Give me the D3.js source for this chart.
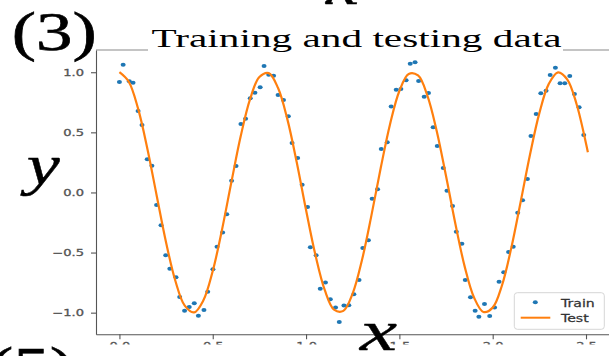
<!DOCTYPE html>
<html>
<head>
<meta charset="utf-8">
<script src="https://d3js.org/d3.v7.min.js"></script>
<style>
  body { margin: 0; background: #fff; }
  .tick line, .domain { stroke: #555; stroke-width: 1.1; }
  .tick text { fill: #555; stroke: #555; stroke-width: 0.3; font-family: "DejaVu Sans", sans-serif; font-size: 9px; }
  .serif { font-family: "Liberation Serif", serif; fill: #000; stroke: #000; }
</style>
</head>
<body>
<script>
var width = 609,
    height = 356;

// Train: noisy samples
var trainX = [0.000, 0.020, 0.053, 0.073, 0.100, 0.121, 0.149, 0.174, 0.199, 0.223,
              0.248, 0.270, 0.303, 0.323, 0.349, 0.374, 0.401, 0.423, 0.453, 0.473,
              0.501, 0.523, 0.553, 0.575, 0.601, 0.625, 0.651, 0.676, 0.701, 0.726,
              0.754, 0.775, 0.800, 0.826, 0.850, 0.879, 0.905, 0.925, 0.955, 0.979,
              1.008, 1.023, 1.054, 1.076, 1.104, 1.130, 1.158, 1.178, 1.203, 1.229,
              1.256, 1.284, 1.304, 1.334, 1.354, 1.383, 1.403, 1.435, 1.456, 1.483,
              1.508, 1.536, 1.558, 1.584, 1.603, 1.633, 1.656, 1.681, 1.703, 1.735,
              1.755, 1.785, 1.805, 1.835, 1.853, 1.881, 1.906, 1.926, 1.956, 1.984,
              2.010, 2.034, 2.059, 2.085, 2.110, 2.134, 2.160, 2.186, 2.205, 2.233,
              2.258, 2.286, 2.308, 2.336, 2.361, 2.386, 2.413, 2.438, 2.463, 2.488];
var trainY = [0.919, 1.063, 0.925, 0.913, 0.678, 0.561, 0.276, 0.223, -0.104, -0.273,
              -0.522, -0.634, -0.705, -0.869, -0.985, -0.952, -0.921, -1.025, -0.977, -0.827,
              -0.639, -0.451, -0.334, -0.181, 0.098, 0.220, 0.570, 0.614, 0.783, 0.830,
              0.875, 1.052, 0.980, 0.971, 0.811, 0.769, 0.634, 0.412, 0.287, 0.065,
              -0.121, -0.456, -0.522, -0.802, -0.750, -0.888, -0.958, -1.077, -0.941, -0.938,
              -0.847, -0.728, -0.462, -0.397, -0.052, 0.027, 0.362, 0.417, 0.714, 0.855,
              0.861, 0.933, 1.071, 1.083, 0.927, 0.797, 0.827, 0.542, 0.387, 0.204,
              0.015, -0.112, -0.326, -0.426, -0.728, -0.872, -0.985, -1.033, -0.927, -1.027,
              -0.958, -0.742, -0.664, -0.495, -0.451, -0.168, -0.065, 0.112, 0.470, 0.653,
              0.825, 0.847, 0.977, 1.038, 0.908, 0.908, 0.969, 0.819, 0.709, 0.478];

// Test: the smooth curve
var testX = [0.00, 0.05, 0.10, 0.15, 0.20, 0.25, 0.30, 0.35, 0.40, 0.45,
             0.50, 0.55, 0.60, 0.65, 0.70, 0.75, 0.80, 0.85, 0.90, 0.95,
             1.00, 1.05, 1.10, 1.15, 1.20, 1.25, 1.30, 1.35, 1.40, 1.45,
             1.50, 1.55, 1.60, 1.65, 1.70, 1.75, 1.80, 1.85, 1.90, 1.95,
             2.00, 2.05, 2.10, 2.15, 2.20, 2.25, 2.30, 2.35, 2.40, 2.45,
             2.50, 2.51];
var testY = [1.000, 0.921, 0.697, 0.362, -0.029, -0.416, -0.737, -0.942, -0.998, -0.897,
             -0.654, -0.307, 0.087, 0.469, 0.776, 0.960, 0.993, 0.869, 0.608, 0.251,
             -0.146, -0.519, -0.811, -0.975, -0.985, -0.839, -0.560, -0.193, 0.203, 0.568,
             0.844, 0.986, 0.973, 0.806, 0.512, 0.137, -0.260, -0.617, -0.874, -0.994,
             -0.958, -0.772, -0.459, -0.077, 0.316, 0.660, 0.901, 0.999, 0.939, 0.732,
             0.408, 0.334];

var xTicks = [0, 0.5, 1, 1.5, 2, 2.5],
    xTickLabels = ["0.0", "0.5", "1.0", "1.5", "2.0", "2.5"];
var yTicks = [-1, -0.5, 0, 0.5, 1],
    yTickLabels = ["\u22121.0", "\u22120.5", "0.0", "0.5", "1.0"];
var legendLabels = ["Train", "Test"];

var x = d3.scaleLinear()
    .domain([-0.1255, 2.6355])
    .range([96, 611.3]);

var y = d3.scaleLinear()
    .domain([-1.18, 1.185])
    .range([334.3, 50]);

var svg = d3.select("body").append("svg")
    .attr("viewBox", "0 0 " + width + " " + height)
    .attr("width", width)
    .attr("height", height);

svg.append("rect")
    .attr("width", width)
    .attr("height", height)
    .attr("fill", "#fff");

// top spine (right one falls outside the crop)
svg.append("line")
    .attr("x1", x.range()[0]).attr("x2", x.range()[1])
    .attr("y1", y.range()[1]).attr("y2", y.range()[1])
    .attr("stroke", "#8a8a8a")
    .attr("stroke-width", 1.1);

var xAxis = svg.append("g")
    .attr("transform", "translate(0," + y.range()[0] + ")")
    .call(d3.axisBottom(x)
      .tickValues(xTicks)
      .tickFormat(function(d, i) { return xTickLabels[i]; })
      .tickSize(5)
      .tickSizeOuter(0));

xAxis.selectAll(".tick text")
    .attr("y", 0)
    .attr("dy", 0)
    .attr("transform", "translate(0,14.5) scale(1.45,1)");

var yAxis = svg.append("g")
    .attr("transform", "translate(" + x.range()[0] + ",0)")
    .call(d3.axisLeft(y)
      .tickValues(yTicks)
      .tickFormat(function(d, i) { return yTickLabels[i]; })
      .tickSize(5)
      .tickSizeOuter(0));

yAxis.selectAll(".tick text")
    .attr("x", 0)
    .attr("transform", "translate(-12,0) scale(1.45,1)");

var train = trainX.map(function(d, i) { return [d, trainY[i]]; });
var test = testX.map(function(d, i) { return [d, testY[i]]; });

svg.append("g")
  .selectAll("ellipse")
    .data(train)
  .enter().append("ellipse")
    .attr("cx", function(d) { return x(d[0]); })
    .attr("cy", function(d) { return y(d[1]); })
    .attr("rx", 2.5)
    .attr("ry", 2)
    .attr("fill", "#1f77b4");

var line = d3.line()
    .x(function(d) { return x(d[0]); })
    .y(function(d) { return y(d[1]); })
    .curve(d3.curveCatmullRom);

svg.append("path")
    .datum(test)
    .attr("d", line)
    .attr("fill", "none")
    .attr("stroke", "#ff7f0e")
    .attr("stroke-width", 2.2);

// legend
var legend = svg.append("g")
    .attr("transform", "translate(514.3,292.7)");

legend.append("rect")
    .attr("width", 90)
    .attr("height", 36.6)
    .attr("rx", 3)
    .attr("fill", "#fff")
    .attr("fill-opacity", 0.8)
    .attr("stroke", "#d6d6d6")
    .attr("stroke-width", 1);

legend.append("ellipse")
    .attr("cx", 21).attr("cy", 9.6)
    .attr("rx", 2.5).attr("ry", 2)
    .attr("fill", "#1f77b4");

legend.append("line")
    .attr("x1", 6.4).attr("x2", 36)
    .attr("y1", 25).attr("y2", 25)
    .attr("stroke", "#ff7f0e")
    .attr("stroke-width", 2);

legend.selectAll(".label")
    .data(legendLabels)
  .enter().append("text")
    .attr("class", "label")
    .attr("transform", function(d, i) { return "translate(46.7," + (13.8 + i * 15.5) + ") scale(1.28,1)"; })
    .attr("font-family", "DejaVu Sans, sans-serif")
    .attr("font-size", 11)
    .attr("fill", "#333")
    .attr("stroke", "#333")
    .attr("stroke-width", 0.25)
    .text(function(d) { return d; });

// the next panel covers the bottom of the tick labels
svg.append("rect")
    .attr("x", 0).attr("y", 344.5)
    .attr("width", width).attr("height", height - 344.5)
    .attr("fill", "#fff");

// title on its own white box, cutting the top spine
svg.append("rect")
    .attr("x", 148).attr("y", 16)
    .attr("width", 415).attr("height", 37)
    .attr("fill", "#fff");

svg.append("text")
    .attr("class", "serif")
    .attr("x", 151.5)
    .attr("y", 46.7)
    .attr("font-size", 26)
    .style("stroke-width", 0)
    .attr("textLength", 410)
    .attr("lengthAdjust", "spacingAndGlyphs")
    .text("Training and testing data");

svg.append("text")
    .attr("class", "serif")
    .attr("x", 11.7)
    .attr("y", 50)
    .attr("font-size", 54)
    .style("stroke-width", 0.6)
    .attr("textLength", 85)
    .attr("lengthAdjust", "spacingAndGlyphs")
    .text("(3)");

svg.append("text")
    .attr("class", "serif")
    .attr("x", -11)
    .attr("y", 385)
    .attr("font-size", 54)
    .style("stroke-width", 0.6)
    .attr("textLength", 85)
    .attr("lengthAdjust", "spacingAndGlyphs")
    .text("(5)");

svg.append("text")
    .attr("class", "serif")
    .attr("x", 26.7)
    .attr("y", 184)
    .attr("font-size", 56)
    .attr("font-style", "italic")
    .style("stroke-width", 0.4)
    .attr("textLength", 33)
    .attr("lengthAdjust", "spacingAndGlyphs")
    .text("y");

svg.append("text")
    .attr("class", "serif")
    .attr("x", 360)
    .attr("y", 350)
    .attr("font-size", 56)
    .attr("font-style", "italic")
    .style("stroke-width", 0.4)
    .attr("textLength", 37)
    .attr("lengthAdjust", "spacingAndGlyphs")
    .text("x");

svg.append("text")
    .attr("class", "serif")
    .attr("x", 326)
    .attr("y", 4)
    .attr("font-size", 56)
    .attr("font-style", "italic")
    .style("stroke-width", 0.4)
    .attr("textLength", 33)
    .attr("lengthAdjust", "spacingAndGlyphs")
    .text("x");
</script>
</body>
</html>
